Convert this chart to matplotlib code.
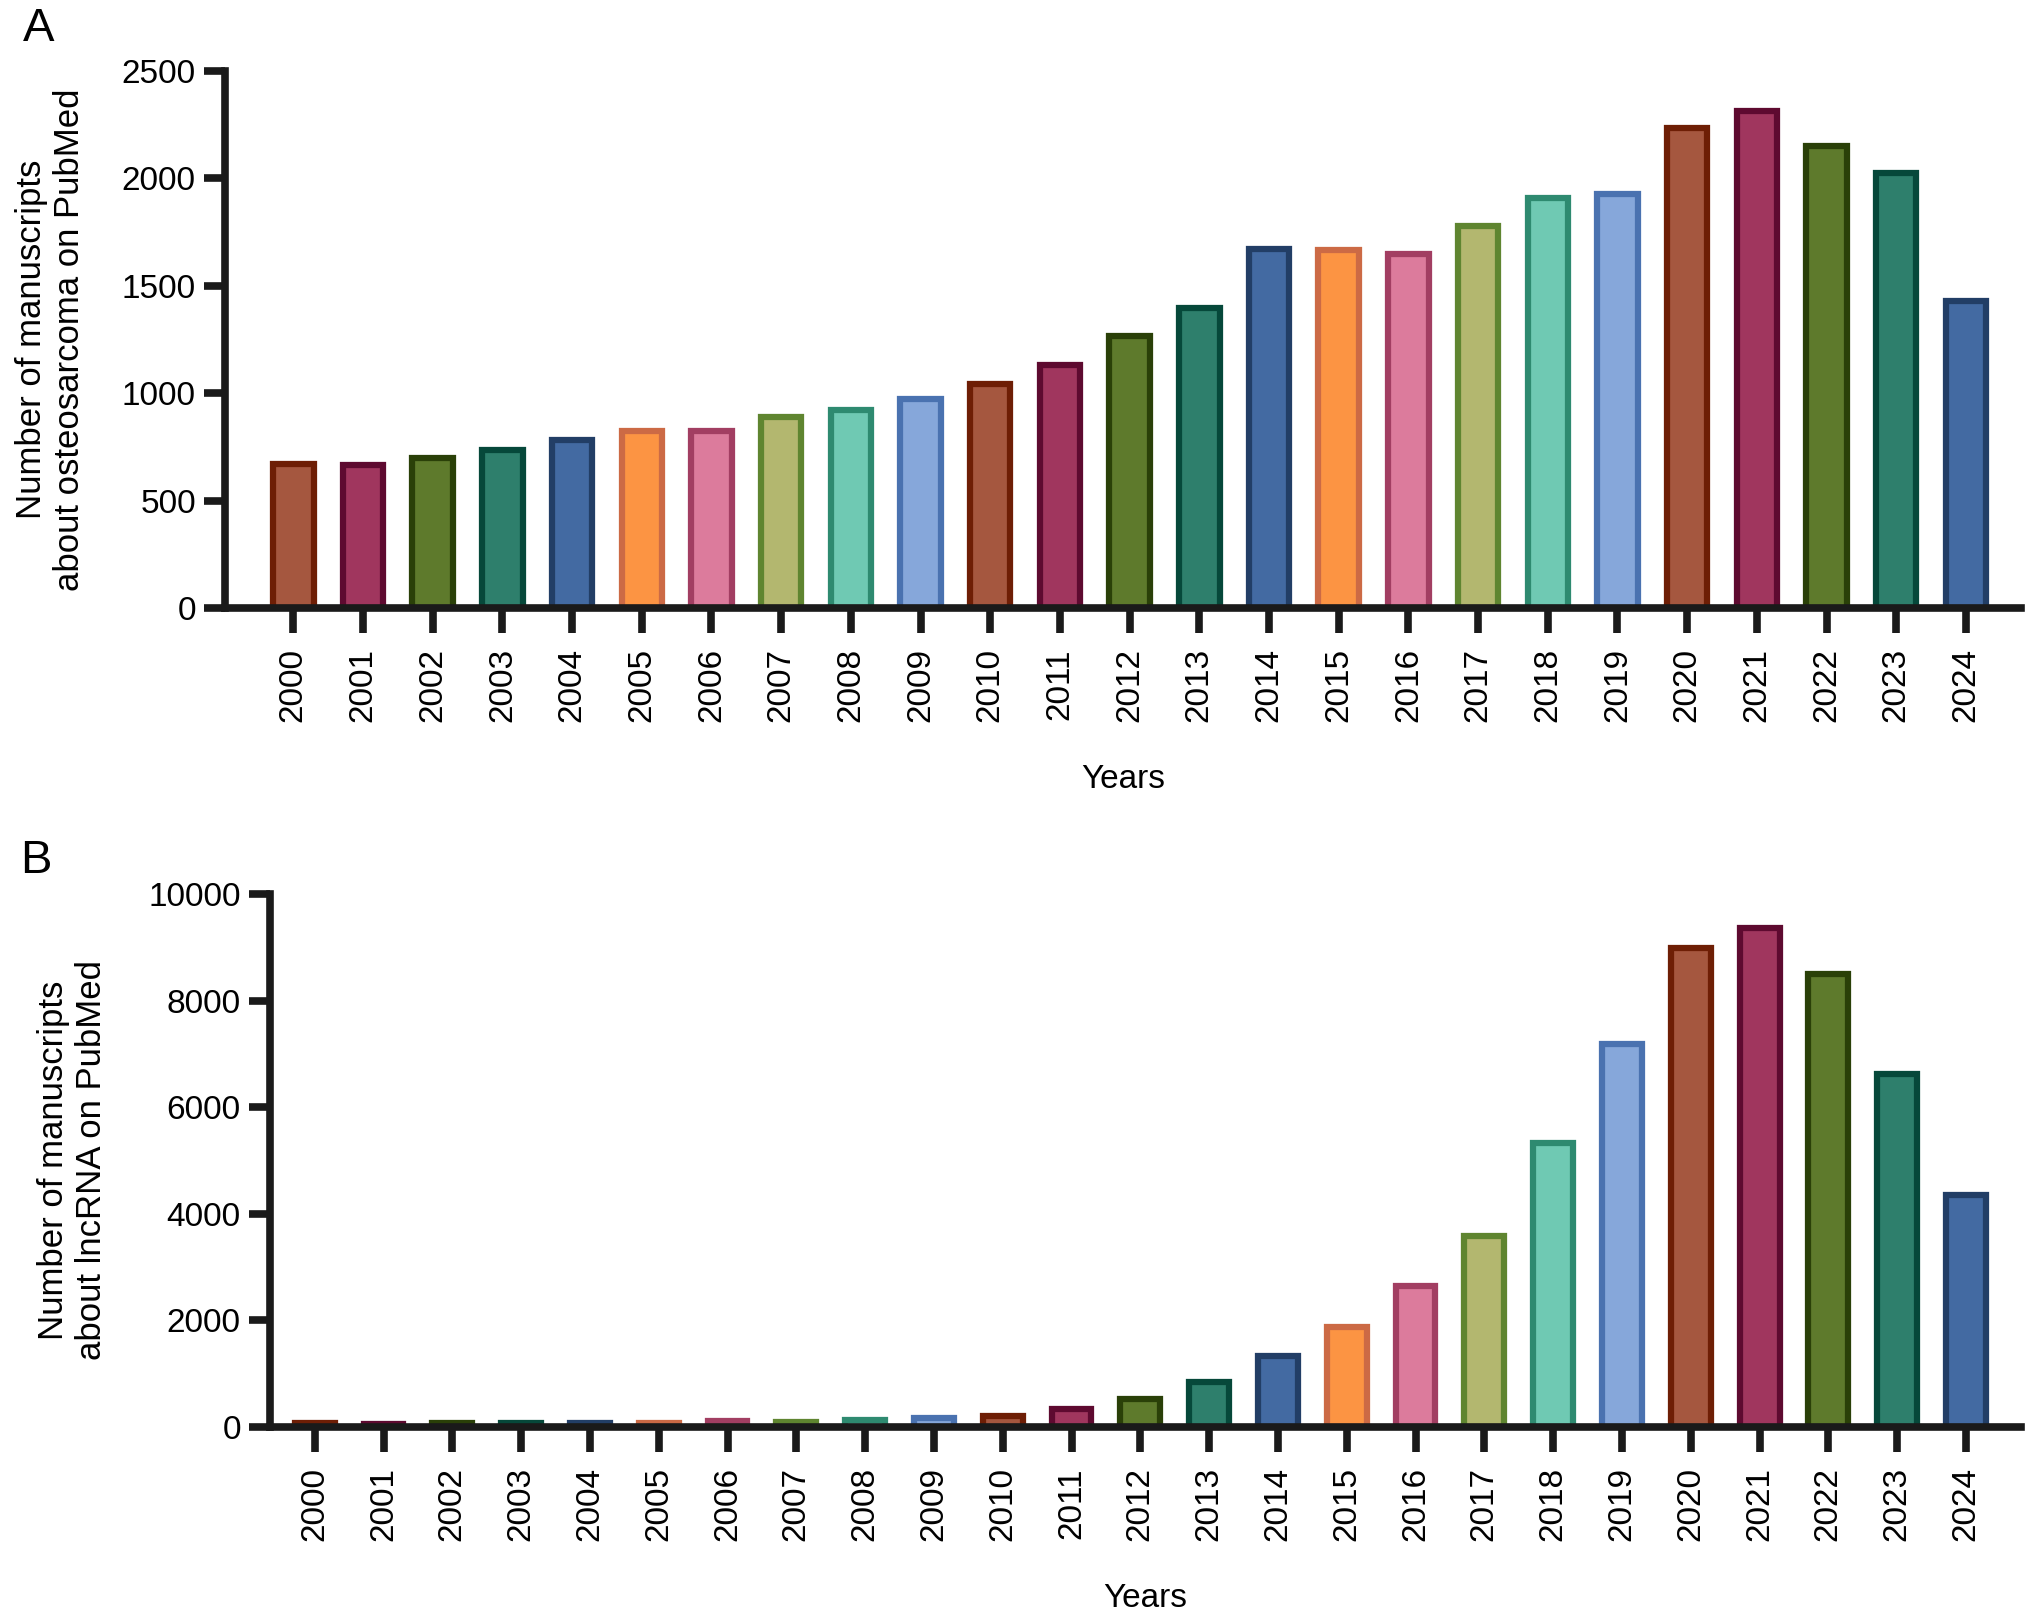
import numpy as np
import matplotlib
matplotlib.use('Agg')
import matplotlib.pyplot as plt

plt.rcParams['font.family'] = ['Liberation Sans', 'DejaVu Sans']

years = [str(y) for y in range(2000, 2025)]

# Рукописи про остеосаркому (панель A)
osteosarcoma = [670, 668, 700, 735, 782, 822, 822, 890, 923, 975, 1042, 1130, 1266,
                1395, 1672, 1668, 1647, 1780, 1910, 1928, 2233, 2314, 2150, 2025, 1427]

# Рукописи про lncRNA (панель B)
lncrna = [70, 55, 70, 75, 70, 75, 110, 100, 125, 160, 210, 330, 520, 850, 1340,
          1870, 2650, 3590, 5330, 7190, 8995, 9360, 8490, 6630, 4350]

fills = ['#A5573F', '#A0365E', '#5E7A2C', '#2E7F6C', '#436AA2',
         '#FC9443', '#DC7B9C', '#B3B76F', '#6FC9B3', '#86A7DA']
edges = ['#6E1E05', '#5E0A30', '#2A4008', '#06483A', '#223E66',
         '#CC6A45', '#A23E62', '#5F8530', '#2E8A70', '#4A72B0']

W, H = 2032, 1621
FS = 24
fig = plt.figure(figsize=(W / 100, H / 100), dpi=100)


def px_axes(left, top, right, bottom):
    return fig.add_axes([left / W, 1 - bottom / H, (right - left) / W, (bottom - top) / H])


def draw_panel(ax, values, ymax, step, xlim, ylabel, label_x):
    x = np.arange(len(values))
    fc = [fills[i % 10] for i in x]
    ec = [edges[i % 10] for i in x]
    ax.bar(x, values, width=0.58, color=fc, edgecolor=ec, linewidth=4.5, zorder=2)
    ax.set_xlim(*xlim)
    ax.set_ylim(0, ymax)
    ax.set_yticks(np.arange(0, ymax + 1, step))
    ax.set_xticks(x)
    ax.set_xticklabels(years, rotation=90, fontsize=FS)
    ax.tick_params(axis='y', labelsize=FS, length=15, width=5.5, pad=6, color='#1a1a1a')
    ax.tick_params(axis='x', length=18, width=5.5, pad=11, color='#1a1a1a')
    for s in ['top', 'right']:
        ax.spines[s].set_visible(False)
    for s in ['left', 'bottom']:
        ax.spines[s].set_linewidth(5.5)
        ax.spines[s].set_color('#1a1a1a')
        ax.spines[s].set_zorder(3)
    ax.set_xlabel('Years', fontsize=FS, labelpad=30)
    ax.set_ylabel(ylabel, fontsize=25, linespacing=1.2)
    ax.yaxis.set_label_coords(label_x, 0.5)


axA = px_axes(225, 71, 2021, 608)
draw_panel(axA, osteosarcoma, 2500, 500, (-0.98, 24.79),
           'Number of manuscripts\nabout osteosarcoma on PubMed', (86 - 225) / (2021 - 225))

axB = px_axes(270, 894, 2021, 1427)
draw_panel(axB, lncrna, 10000, 2000, (-0.65, 24.8),
           'Number of manuscripts\nabout lncRNA on PubMed', (108 - 270) / (2021 - 270))

fig.text(39 / W, 1 - 29 / H, 'A', fontsize=34, ha='center', va='center')
fig.text(36 / W, 1 - 861 / H, 'B', fontsize=34, ha='center', va='center')

fig.savefig('out.png', dpi=100)
